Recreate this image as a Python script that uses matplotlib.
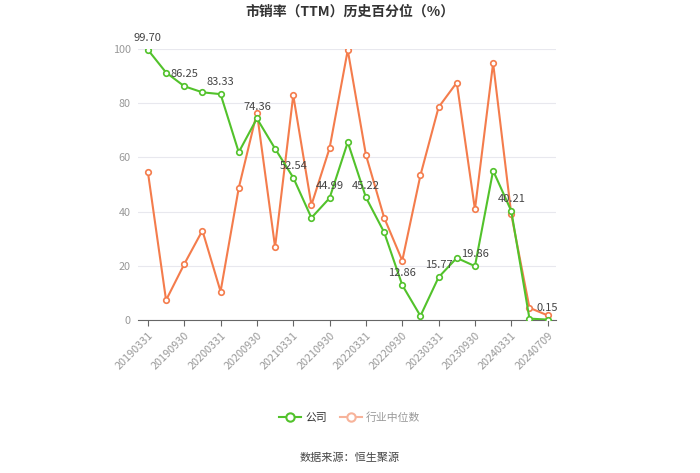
import numpy as np
import matplotlib
matplotlib.use('Agg')
import matplotlib.pyplot as plt
from matplotlib.lines import Line2D

plt.rcParams['font.family'] = ['Noto Sans CJK SC', 'DejaVu Sans']

dates = ['20190331', '20190630', '20190930', '20191231', '20200331', '20200630',
         '20200930', '20201231', '20210331', '20210630', '20210930', '20211231',
         '20220331', '20220630', '20220930', '20221231', '20230331', '20230630',
         '20230930', '20231231', '20240331', '20240630', '20240709']
company = [99.70, 91.3, 86.25, 84.0, 83.33, 61.9, 74.36, 63.2, 52.54, 37.7, 44.99, 65.6,
           45.22, 32.4, 12.86, 1.5, 15.77, 22.9, 19.86, 55.1, 40.21, 0.5, 0.15]
median = [54.6, 7.3, 20.6, 33.0, 10.5, 48.7, 76.5, 26.9, 82.9, 42.4, 63.4, 99.6,
          60.9, 37.8, 21.9, 53.4, 78.5, 87.6, 40.8, 94.8, 39.0, 4.5, 1.7]
label_idx = list(range(0, 23, 2))

GREEN = '#52c22b'
ORANGE = '#f47c4c'

fig = plt.figure(figsize=(7, 4.73), dpi=100)
ax = fig.add_axes([0.197, 0.3235, 0.597, 0.573])

x = np.arange(len(dates))
ax.plot(x, median, color=ORANGE, lw=1.5, marker='o', ms=4, mfc='white', mew=1.2, zorder=3)
ax.plot(x, company, color=GREEN, lw=1.5, marker='o', ms=4, mfc='white', mew=1.2, zorder=4)

for i in label_idx:
    ax.text(x[i], company[i] + 2.5, '%.2f' % company[i], ha='center', va='bottom',
            fontsize=8, color='#444444', zorder=5)

ax.set_xlim(-0.55, 22.45)
ax.set_ylim(0, 100)
ax.set_yticks(range(0, 101, 20))
ax.set_xticks(x[::2])
ax.set_xticklabels(dates[::2], rotation=45, ha='right', rotation_mode='anchor')
ax.tick_params(axis='x', colors='#999999', labelsize=7.8, length=4, color='#666666')
ax.tick_params(axis='y', colors='#999999', labelsize=7.8, length=0, pad=5)
ax.grid(axis='y', color='#e8e8ee', lw=0.8)
ax.set_axisbelow(True)
for s in ['top', 'right', 'left']:
    ax.spines[s].set_visible(False)
ax.spines['bottom'].set_color('#666666')

fig.text(0.5, 0.975, '市销率（TTM）历史百分位（%）', ha='center', va='center',
         fontsize=10, fontweight='bold', color='#333333')

handles = [Line2D([], [], color=GREEN, lw=1.5, marker='o', ms=6, mfc='white', mew=1.5),
           Line2D([], [], color='#f7b39a', lw=1.5, marker='o', ms=6, mfc='white', mew=1.5)]
fig.legend(handles, ['公司', '行业中位数'], loc='center', bbox_to_anchor=(0.5, 0.118),
           ncol=2, frameon=False, fontsize=7.8, handlelength=2, columnspacing=1.2,
           handletextpad=0.4, labelcolor=['#333333', '#999999'])

fig.text(0.5, 0.032, '数据来源：恒生聚源', ha='center', va='center', fontsize=8, color='#444444')

fig.savefig('out.png', dpi=100)
